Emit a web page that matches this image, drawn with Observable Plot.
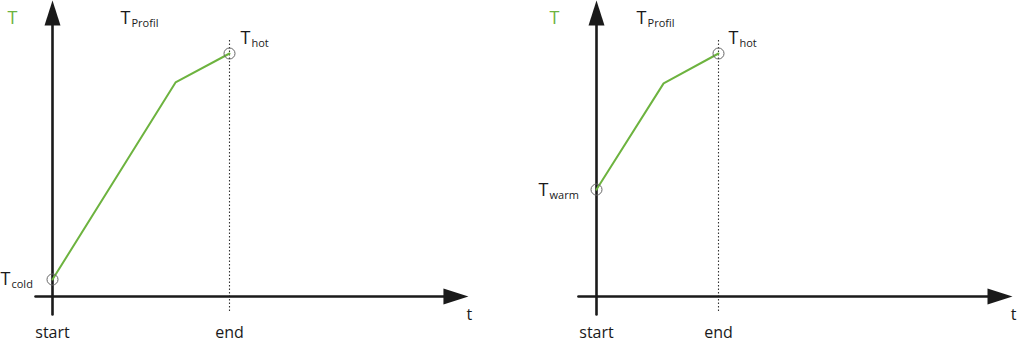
<!DOCTYPE html>
<html><head><meta charset="utf-8">
<script src="https://cdn.jsdelivr.net/npm/d3@7"></script>
<script src="https://cdn.jsdelivr.net/npm/@observablehq/plot@0.6"></script>
<style>
body{margin:0;background:#fff}
#c{display:flex;width:1024px;height:348px;font-family:"Open Sans",sans-serif}
</style>
</head><body><div id="c"></div><script>
// Tick labels on the time axis
const tickLabels = ["start", "end"];
const tickTimes = [0, 1];
// Temperature profiles (time in units of end time, temperature in units of T_hot)
const leftTimes = [0, 0.695, 1];
const leftTemps = [0.07, 0.881, 1];
const rightTimes = [0, 0.55, 1];
const rightTemps = [0.44, 0.877, 1];
// Point labels (subscripts of T)
const leftPointLabels = ["cold", "hot"];
const rightPointLabels = ["warm", "hot"];
const axisNames = ["T", "t"];
const profileName = "Profil";

const GREEN = "#6db33f";
const INK = "#1a1a1a";
const FONT = "Open Sans, sans-serif";

const arrowShape = {
  draw(ctx, l) {
    ctx.moveTo(-8, 0);
    ctx.lineTo(0, -l);
    ctx.lineTo(8, 0);
    ctx.closePath();
  }
};

function panel(cfg) {
  const pts = cfg.times.map((t, i) => ({t, T: cfg.temps[i]}));
  const first = pts[0], last = pts[pts.length - 1];
  const sub = (d, text, extra = {}) => [
    Plot.text([d], {x: "t", y: "T", text: () => "T", textAnchor: "start", lineAnchor: "bottom",
      fontSize: 18, fontFamily: FONT, fill: INK, ...extra}),
    Plot.text([d], {x: "t", y: "T", text: () => text, textAnchor: "start", lineAnchor: "bottom",
      fontSize: 11, fontFamily: FONT, fill: INK, dx: 11, dy: 3})
  ];
  return Plot.plot({
    width: 512, height: 348, margin: 0,
    style: {fontFamily: FONT, background: "#fff"},
    x: {domain: [0, 1], range: cfg.xRange, axis: null},
    y: {domain: [0, 1], range: [296, 53], axis: null},
    marks: [
      // dotted end marker
      Plot.ruleX([tickTimes[1]], {y1: -0.062, y2: 1.062, stroke: "#333", strokeWidth: 1.1, strokeDasharray: "1.5,2"}),
      // axes
      Plot.line([[cfg.tAxis[0], 0], [cfg.tAxis[1] - 0.05, 0]], {stroke: INK, strokeWidth: 2.6}),
      Plot.line([[0, -0.074], [0, 1.14]], {stroke: INK, strokeWidth: 2.6}),
      Plot.vector([{t: 0, T: 1.218}], {x: "t", y: "T", length: 25, rotate: 0, anchor: "end", shape: arrowShape, fill: INK, stroke: "none"}),
      Plot.vector([{t: cfg.tAxis[1], T: 0}], {x: "t", y: "T", length: 25, rotate: 90, anchor: "end", shape: arrowShape, fill: INK, stroke: "none"}),
      // profile
      Plot.line(pts, {x: "t", y: "T", stroke: GREEN, strokeWidth: 2}),
      Plot.dot([first, last], {x: "t", y: "T", r: 5.5, stroke: "#666", strokeWidth: 1, fill: "none"}),
      // tick labels
      Plot.text(tickTimes, {x: d => d, y: () => 0, text: (d, i) => tickLabels[i], dy: 41, lineAnchor: "bottom",
        fontSize: 16, fontFamily: FONT, fill: INK}),
      Plot.text([cfg.tAxis[1]], {x: d => d, y: () => 0, text: () => axisNames[1], dx: 1, dy: 23, lineAnchor: "bottom",
        fontSize: 16, fontFamily: FONT, fill: INK}),
      // axis name
      Plot.text([cfg.axisLabel], {x: "t", y: "T", text: () => axisNames[0], textAnchor: "start", lineAnchor: "bottom",
        fontSize: 18, fontFamily: FONT, fill: GREEN}),
      ...sub(cfg.profilLabel, profileName),
      ...sub(cfg.startLabel, cfg.pointLabels[0]),
      ...sub(cfg.endLabel, cfg.pointLabels[1])
    ]
  });
}

const c = document.getElementById("c");
c.append(panel({
  times: leftTimes, temps: leftTemps, pointLabels: leftPointLabels,
  xRange: [52, 229], tAxis: [-0.096, 2.35],
  axisLabel: {t: -0.254, T: 1.123}, profilLabel: {t: 0.384, T: 1.123},
  startLabel: {t: -0.294, T: 0.049}, endLabel: {t: 1.062, T: 1.041}
}));
c.append(panel({
  times: rightTimes, temps: rightTemps, pointLabels: rightPointLabels,
  xRange: [84, 206], tAxis: [-0.148, 3.41],
  axisLabel: {t: -0.385, T: 1.123}, profilLabel: {t: 0.328, T: 1.123},
  startLabel: {t: -0.475, T: 0.412}, endLabel: {t: 1.082, T: 1.041}
}));
</script></body></html>
